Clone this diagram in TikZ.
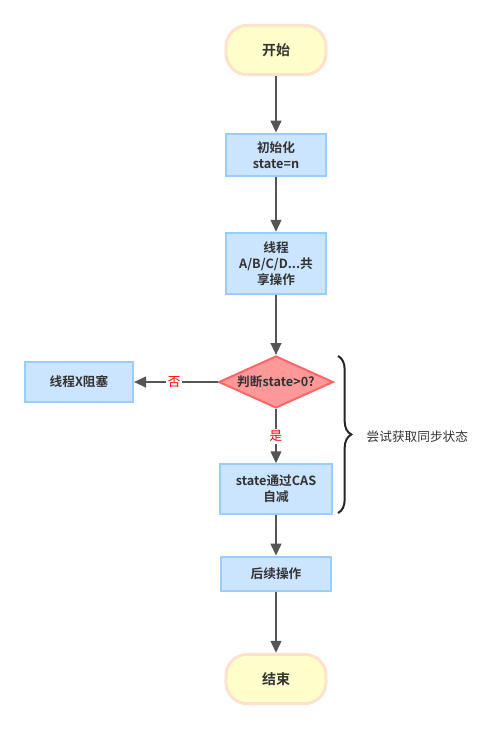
\documentclass[tikz,border=0pt]{standalone}
\usepackage{fontspec}
\setmainfont{Noto Sans CJK SC}[BoldFont={Noto Sans CJK SC Bold}]
\usetikzlibrary{positioning, arrows.meta, shapes.geometric, decorations.pathreplacing}

\definecolor{termfill}{HTML}{FFFFCC}
\definecolor{termline}{HTML}{FFE1CC}
\definecolor{boxfill}{HTML}{CCE5FF}
\definecolor{boxline}{HTML}{99CCFF}
\definecolor{decfill}{HTML}{FF9999}
\definecolor{decline}{HTML}{FF6666}
\definecolor{flowline}{HTML}{555555}
\definecolor{txt}{HTML}{333333}

\begin{document}
\begin{tikzpicture}[x=0.75pt, y=-0.75pt,
    every node/.style={font=\fontsize{9.5}{12}\selectfont\bfseries, text=txt, align=center},
    term/.style={draw=termline, line width=2.2pt, fill=termfill, rounded corners=16pt,
      minimum width=75pt, minimum height=37pt, font=\fontsize{10.5}{13}\selectfont\bfseries},
    procbox/.style={draw=boxline, line width=1.5pt, fill=boxfill, inner sep=2pt},
    decision/.style={diamond, draw=decline, line width=1.5pt, fill=decfill, aspect=2.2,
      inner sep=0pt, minimum width=86pt, minimum height=39pt},
    flow/.style={draw=flowline, line width=1.5pt, -{Triangle[length=9pt, width=8pt]}},
    answer/.style={font=\fontsize{9.5}{12}\selectfont, text=red, fill=white, inner sep=1.5pt}]
  \useasboundingbox (0,0) rectangle (501,729);

  \node[term] (start) at (276,50) {开始};
  \node[procbox, minimum width=75pt, minimum height=32pt] (init) at (276,155) {初始化\\state=n};
  \node[procbox, minimum width=75pt, minimum height=46pt] (share) at (276,263.5) {线程\\A/B/C/D...共\\享操作};
  \node[decision] (judge) at (276,382) {判断state>0?};
  \node[procbox, minimum width=81pt, minimum height=30pt] (block) at (79,382) {线程X阻塞};
  \node[procbox, minimum width=84pt, minimum height=37pt] (cas) at (276,489) {state通过CAS\\自减};
  \node[procbox, minimum width=83pt, minimum height=26pt] (after) at (276,574) {后续操作};
  \node[term] (end) at (276,679) {结束};

  \draw[flow] (start) -- (init);
  \draw[flow] (init) -- (share);
  \draw[flow] (share) -- (judge);
  \draw[flow] (judge) -- node[answer, pos=0.52] {否} (block);
  \draw[flow] (judge) -- node[answer, pos=0.5] {是} (cas);
  \draw[flow] (cas) -- (after);
  \draw[flow] (after) -- (end);

  % brace round the try-acquire part
  \coordinate (bracetop) at (338,356);
  \coordinate (bracebot) at (338,513);
  \draw[black!85, line width=1.5pt, decorate, decoration={brace, amplitude=10pt}] (bracetop) -- (bracebot);
  \node[font=\fontsize{9.5}{12}\selectfont, text=txt, anchor=west] (trylabel) at (362,437) {尝试获取同步状态};
\end{tikzpicture}
\end{document}
